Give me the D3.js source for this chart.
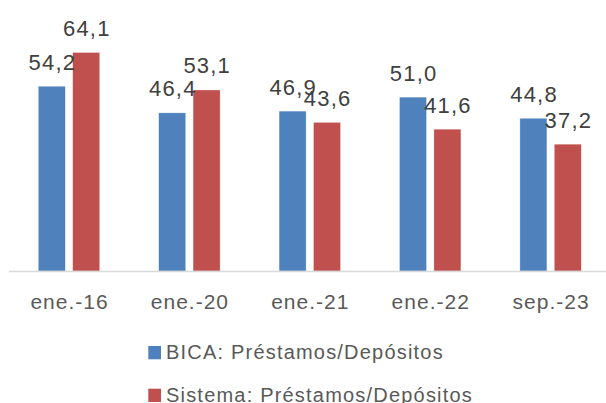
<!DOCTYPE html>
<html>
<head>
<meta charset="utf-8">
<script src="https://cdn.jsdelivr.net/npm/d3@7"></script>
<style>
  html, body { margin: 0; padding: 0; background: #fff; }
  svg { display: block; font-family: 'Liberation Sans', Arial, sans-serif; }
</style>
</head>
<body>
<div id="chart"></div>
<script>
const categories = ['ene.-16', 'ene.-20', 'ene.-21', 'ene.-22', 'sep.-23']
const seriesNames = ['BICA: Préstamos/Depósitos', 'Sistema: Préstamos/Depósitos']
const bica = [54.2, 46.4, 46.9, 51.0, 44.8]
const sistema = [64.1, 53.1, 43.6, 41.6, 37.2]
const colors = ['#4f81bd', '#c0504d']

const width = 606
const height = 403
const format = d3.format('.1f')

const data = categories.map((c, i) => ({ group: c, values: [bica[i], sistema[i]] }))

function drawChart(container) {
  const svg = container.append('svg')
    .attr('width', width)
    .attr('height', height)

  const x0 = d3.scaleBand()
    .domain(categories)
    .range([8.8, 610.8])
    .paddingInner(0.49)
    .paddingOuter(0.245)

  const x1 = d3.scaleBand()
    .domain([0, 1])
    .range([0, x0.bandwidth()])
    .paddingInner(0.215)

  const y = d3.scaleLinear()
    .domain([0, 79.5])
    .range([271, 0])

  // bars
  const groups = svg.append('g').attr('class', 'g-plot')
    .selectAll('g')
    .data(data)
    .join('g')
    .attr('transform', d => 'translate(' + x0(d.group) + ',0)')

  groups.selectAll('rect')
    .data(d => d.values.map((v, k) => ({ k, v })))
    .join('rect')
    .attr('x', d => x1(d.k))
    .attr('y', d => y(d.v))
    .attr('width', x1.bandwidth())
    .attr('height', d => y(0) - y(d.v))
    .attr('fill', d => colors[d.k])
    .attr('stroke', '#fff')
    .attr('stroke-opacity', 0.5)
    .attr('stroke-width', 0.6)

  // value labels
  groups.selectAll('text')
    .data(d => d.values.map((v, k) => ({ k, v })))
    .join('text')
    .attr('x', d => x1(d.k) + x1.bandwidth() / 2 + 0.6)
    .attr('y', d => y(d.v) - 16.6)
    .attr('text-anchor', 'middle')
    .attr('font-size', 22)
    .attr('letter-spacing', 1.2)
    .attr('fill', '#404040')
    .text(d => format(d.v).replace('.', ','))

  // category axis
  const axis = svg.append('g')
    .attr('class', 'axis axis--categories')
    .attr('transform', 'translate(0,271.5)')
    .call(d3.axisBottom(x0).tickSize(0).tickPadding(0))
  axis.select('.domain')
    .attr('d', 'M9,0H606')
    .attr('stroke', '#d9d9d9')
    .attr('stroke-width', 1.6)
  axis.selectAll('.tick text')
    .attr('dy', null)
    .attr('y', 37.8)
    .attr('dx', 0.5)
    .attr('font-family', 'Liberation Sans, Arial, sans-serif')
    .attr('font-size', 21)
    .attr('letter-spacing', 1)
    .attr('fill', '#595959')

  // legend
  const legend = svg.append('g').attr('class', 'legend')
    .selectAll('g')
    .data(seriesNames)
    .join('g')
    .attr('transform', (d, i) => 'translate(148.3,' + (346 + i * 42.7) + ')')
  legend.append('rect')
    .attr('width', 12.7)
    .attr('height', 13.3)
    .attr('fill', (d, i) => colors[i])
  legend.append('text')
    .attr('x', 17.7)
    .attr('y', 13.3)
    .attr('font-size', 20)
    .attr('letter-spacing', 1.2)
    .attr('fill', '#595959')
    .text(d => d)
}

drawChart(d3.select('#chart'))
</script>
</body>
</html>
